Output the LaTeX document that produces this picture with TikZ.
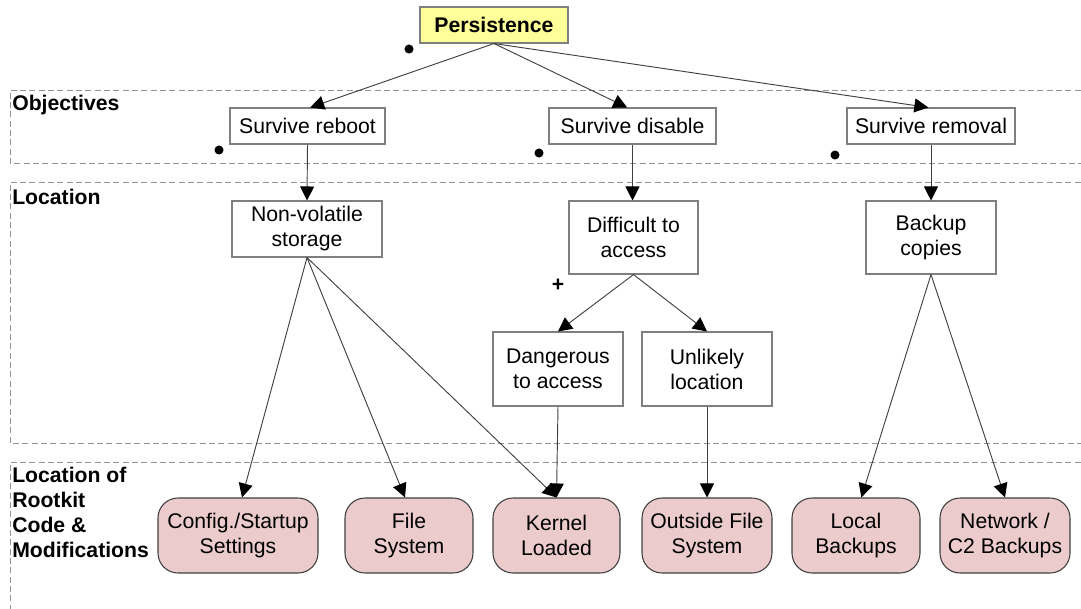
\documentclass[tikz,border=0pt]{standalone}
\usepackage{fontspec}
\setmainfont{Liberation Sans}
\usetikzlibrary{arrows.meta}
\definecolor{boxline}{HTML}{7F7F7F}
\definecolor{conn}{HTML}{404040}
\definecolor{goalfill}{HTML}{FFFF99}
\definecolor{codefill}{HTML}{EBCBCB}
\begin{document}
\begin{tikzpicture}[x=0.75pt,y=-0.75pt,
  every node/.style={font=\fontsize{15.9}{18.75}\selectfont, align=center, inner sep=0pt},
  plainbox/.style={draw=boxline, line width=0.8pt, fill=white},
  goalbox/.style={draw=boxline, line width=0.8pt, fill=goalfill, font=\fontsize{15.9}{18.75}\selectfont\bfseries},
  codebox/.style={draw=conn, line width=0.8pt, fill=codefill, rounded corners=15pt, minimum width=#1*0.75pt, minimum height=56.25pt},
  band/.style={draw=gray!85, dashed, dash pattern=on 4.5pt off 2.5pt, line width=0.7pt},
  bandlabel/.style={anchor=north west, align=left, font=\fontsize{15.9}{18.75}\selectfont\bfseries},
  link/.style={draw=conn, line width=0.7pt, -{Triangle[length=10.5pt,width=10.5pt,color=black,fill=black]}},
  blob/.style={fill=black}
]
\useasboundingbox (0,0) rectangle (1081,608);

% layer bands (open on the right)
\draw[band] (1090,90) -- (10,90) -- (10,163) -- (1090,163);
\draw[band] (1090,182) -- (10,182) -- (10,443) -- (1090,443);
\draw[band] (1090,462) -- (10,462) -- (10,615);

\node[bandlabel] (lobj) at (12,95) {Objectives};
\node[bandlabel] (lloc) at (12,189) {Location};
\node[bandlabel] (lcode) at (12,467) {Location of\\Rootkit\\Code \&\\Modifications};

% goal
\node[goalbox, minimum width=111pt, minimum height=27pt] (persist) at (494,25) {Persistence};

% objectives
\node[plainbox, minimum width=116.25pt, minimum height=27pt] (reboot) at (307.5,126) {Survive reboot};
\node[plainbox, minimum width=125.25pt, minimum height=27pt] (disable) at (632.5,126) {Survive disable};
\node[plainbox, minimum width=126pt, minimum height=27pt] (removal) at (931,126) {Survive removal};

% locations
\node[plainbox, minimum width=112.5pt, minimum height=42pt] (nonvol) at (307,229) {Non-volatile\\storage};
\node[plainbox, minimum width=96.75pt, minimum height=54.75pt] (difficult) at (633.5,237.5) {Difficult to\\access};
\node[plainbox, minimum width=97.5pt, minimum height=54.75pt] (backup) at (931,237.5) {Backup\\copies};
\node[plainbox, minimum width=97.5pt, minimum height=55.5pt] (dangerous) at (558,369) {Dangerous\\to access};
\node[plainbox, minimum width=97.5pt, minimum height=55.5pt] (unlikely) at (707,369) {Unlikely\\location};

% code locations
\node[codebox=160] (config) at (238,535.5) {Config./Startup\\Settings};
\node[codebox=128] (filesys) at (409,535.5) {File\\System};
\node[codebox=127] (kernel) at (556.5,535.5) {Kernel\\Loaded};
\node[codebox=130] (outside) at (707,535.5) {Outside File\\System};
\node[codebox=128] (localb) at (856,535.5) {Local\\Backups};
\node[codebox=130] (network) at (1005,535.5) {Network /\\C2 Backups};

% markers
\fill[blob] (409,49) circle (3.4pt);
\fill[blob] (219,150) circle (3.4pt);
\fill[blob] (539,153) circle (3.4pt);
\fill[blob] (835,155) circle (3.4pt);
\node[font=\fontsize{15.9}{18.75}\selectfont\bfseries] (plus) at (558,285) {+};

% connectors
\draw[link] (persist.south) -- ([xshift=2pt]reboot.north);
\draw[link] (persist.south) -- ([xshift=-4pt]disable.north);
\draw[link] (persist.south) -- ([xshift=-2pt]removal.north);
\draw[link] (reboot.south) -- (nonvol.north);
\draw[link] (disable.south) -- ([xshift=-0.75pt]difficult.north);
\draw[link] (removal.south) -- (backup.north);
\draw[link] (nonvol.south) -- ([xshift=3pt]config.north);
\draw[link] (nonvol.south) -- ([xshift=-3pt]filesys.north);
\draw[link] (nonvol.south) -- (kernel.north);
\draw[link] (difficult.south) -- (dangerous.north);
\draw[link] (difficult.south) -- (unlikely.north);
\draw[link] (dangerous.south) -- (kernel.north);
\draw[link] (unlikely.south) -- (outside.north);
\draw[link] (backup.south) -- ([xshift=4pt]localb.north);
\draw[link] (backup.south) -- (network.north);
\end{tikzpicture}
\end{document}
